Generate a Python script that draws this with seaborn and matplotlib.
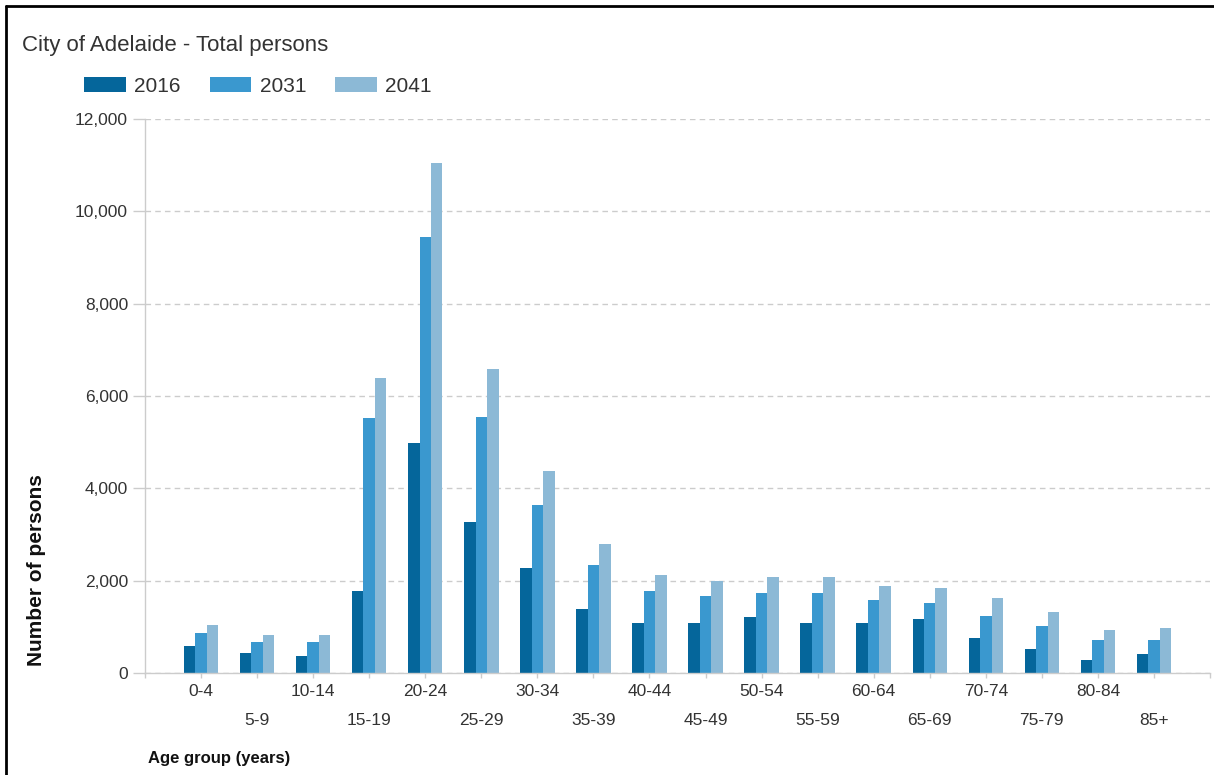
import matplotlib
matplotlib.use("Agg")
import matplotlib.pyplot as plt
from matplotlib.lines import Line2D
from matplotlib.patches import Patch
from matplotlib.ticker import FuncFormatter
import seaborn as sns
import pandas as pd

# Projected population of the City of Adelaide by five-year age group
age_groups = ["0-4", "5-9", "10-14", "15-19", "20-24", "25-29", "30-34", "35-39",
              "40-44", "45-49", "50-54", "55-59", "60-64", "65-69", "70-74",
              "75-79", "80-84", "85+"]
years = ["2016", "2031", "2041"]
persons_2016 = [590, 430, 365, 1776, 4987, 3266, 2275, 1393, 1089, 1089, 1204,
                1089, 1089, 1168, 749, 524, 286, 401]
persons_2031 = [857, 669, 669, 5516, 9444, 5551, 3635, 2348, 1776, 1660, 1740,
                1740, 1580, 1508, 1241, 1009, 705, 705]
persons_2041 = [1046, 820, 820, 6398, 11050, 6586, 4379, 2804, 2123, 2000, 2088,
                2088, 1892, 1849, 1624, 1320, 937, 972]
bar_colors = ["#05669b", "#3a98cf", "#8cb9d6"]

series = {"2016": persons_2016, "2031": persons_2031, "2041": persons_2041}
df = pd.DataFrame(
    [(age, yr, val) for yr in years for age, val in zip(age_groups, series[yr])],
    columns=["age", "year", "persons"],
)

sns.set_theme(style="white")
plt.rcParams["font.family"] = ["Liberation Sans", "DejaVu Sans"]

W, H = 1214, 775
PX = 72 / 100  # points per pixel at 100 dpi
fig = plt.figure(figsize=(W / 100, H / 100), dpi=100)
fig.patch.set_facecolor("white")
ax = fig.add_axes([145 / W, 1 - 673 / H, (1210 - 145) / W, (673 - 119) / H])

sns.barplot(data=df, x="age", y="persons", hue="year", order=age_groups,
            hue_order=years, palette=bar_colors, width=0.615, gap=0,
            saturation=1, linewidth=0, legend=False, ax=ax)

ax.set_xlim(-1, 18)
ax.set_ylim(0, 12000)
ax.set_yticks(range(0, 12001, 2000))
ax.yaxis.set_major_formatter(FuncFormatter(lambda v, _: f"{int(v):,}"))
ax.set_xlabel("")
ax.set_ylabel("")

# Alternate category labels on two rows
even = list(range(0, 18, 2))
odd = [-1] + list(range(1, 18, 2)) + [18]
ax.set_xticks(even, labels=[age_groups[i] for i in even])
ax.set_xticks(odd, labels=[""] + [age_groups[i] for i in range(1, 18, 2)] + [""],
              minor=True)

grid_col = "#cccccc"
text_col = "#333333"
ax.tick_params(axis="x", which="both", bottom=True, length=5 * PX, width=1,
               color=grid_col, labelsize=12.5, labelcolor=text_col)
ax.tick_params(axis="x", which="major", pad=6 * PX)
ax.tick_params(axis="x", which="minor", pad=35 * PX)
ax.tick_params(axis="y", left=True, length=12 * PX, width=1, color=grid_col,
               labelsize=12.5, labelcolor=text_col, pad=5 * PX)

ax.yaxis.grid(True, linestyle=(0, (4, 3)), color=grid_col, linewidth=1)
ax.xaxis.grid(False)
ax.set_axisbelow(True)
for side in ("top", "right"):
    ax.spines[side].set_visible(False)
for side in ("left", "bottom"):
    ax.spines[side].set_color(grid_col)
    ax.spines[side].set_linewidth(1)

fig.text(22 / W, 1 - 45 / H, "City of Adelaide - Total persons", fontsize=16,
         color=text_col, ha="left", va="center")

handles = [Patch(facecolor=c, edgecolor="none") for c in bar_colors]
fig.legend(handles, years, loc="center left", bbox_to_anchor=(84 / W, 1 - 86 / H),
           frameon=False, ncol=3, fontsize=15, borderpad=0, borderaxespad=0,
           handlelength=2.0, handleheight=0.7, handletextpad=0.4,
           columnspacing=1.4, labelcolor=text_col)

fig.text(37 / W, 1 - 666 / H, "Number of persons", rotation=90, fontsize=15,
         fontweight="bold", color="#111111", ha="center", va="bottom")
fig.text(148 / W, 1 - 759 / H, "Age group (years)", fontsize=12,
         fontweight="bold", color="#111111", ha="left", va="center")

# Frame around the chart panel
fig.add_artist(Line2D([6 / W, 6 / W], [0, 1 - 6 / H], color="black", lw=2,
                      transform=fig.transFigure))
fig.add_artist(Line2D([6 / W, 1], [1 - 6 / H, 1 - 6 / H], color="black", lw=2,
                      transform=fig.transFigure))

fig.savefig("out.png", dpi=100, facecolor="white")
